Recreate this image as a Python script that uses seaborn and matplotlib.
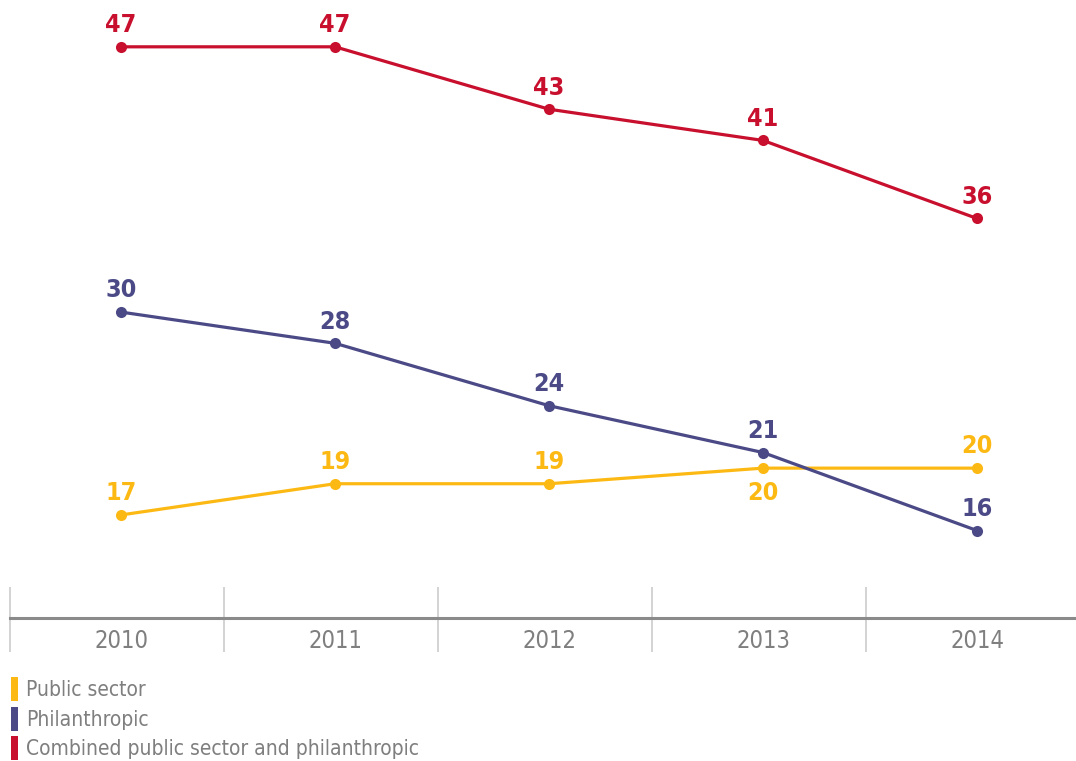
import matplotlib
matplotlib.use("Agg")
import matplotlib.pyplot as plt
from matplotlib.patches import Patch
import pandas as pd
import seaborn as sns

years = ["2010", "2011", "2012", "2013", "2014"]
public_sector = [17, 19, 19, 20, 20]
philanthropic = [30, 28, 24, 21, 16]
combined = [47, 47, 43, 41, 36]

series_names = ["Public sector", "Philanthropic", "Combined public sector and philanthropic"]
colors = ["#FDB913", "#4B4A87", "#C8102E"]

sns.set_style("white")
plt.rcParams["font.family"] = ["DejaVu Sans", "Liberation Sans"]
plt.rcParams["font.stretch"] = "condensed"

rows = []
for name, vals in zip(series_names, [public_sector, philanthropic, combined]):
    for i, v in enumerate(vals):
        rows.append({"idx": i, "value": v, "series": name})
df = pd.DataFrame(rows)

fig = plt.figure(figsize=(10.76, 7.61), dpi=100)
ax = fig.add_axes([0.0093, 0.188, 0.9898, 0.812])

sns.lineplot(data=df, x="idx", y="value", hue="series", hue_order=series_names,
             palette=colors, marker="o", markersize=8, markeredgewidth=0,
             linewidth=2.3, legend=False, ax=ax)

ax.set_xlim(-0.519, 4.458)
ax.set_ylim(10.4, 50.0)

# value labels (public sector 2013 goes under the point)
for name, vals, col in zip(series_names, [public_sector, philanthropic, combined], colors):
    for i, v in enumerate(vals):
        below = name == "Public sector" and i == 3
        ax.annotate(str(v), (i, v), xytext=(0, -9 if below else 7),
                    textcoords="offset points", ha="center",
                    va="top" if below else "bottom",
                    fontsize=18, fontweight="bold", color=col)

# axis styling
for side in ["top", "right", "left"]:
    ax.spines[side].set_visible(False)
ax.spines["bottom"].set_color("#8a8a8a")
ax.spines["bottom"].set_linewidth(2.2)
ax.set_yticks([])
ax.set_xticks(range(len(years)))
ax.set_xticklabels(years, fontsize=17, color="#7f7f7f")
ax.tick_params(axis="x", length=0, pad=8)
ax.set_xlabel("")
ax.set_ylabel("")

# band separators
seps = [i - 0.519 for i in range(len(years))]
ax.vlines(seps, -0.055, 0.05, transform=ax.get_xaxis_transform(),
          colors="#cccccc", linewidth=1.2, clip_on=False)

handles = [Patch(facecolor=c, edgecolor="none") for c in colors]
fig.legend(handles, series_names, loc="upper left", bbox_to_anchor=(0.010, 0.110),
           frameon=False, fontsize=15, labelcolor="#7f7f7f",
           handlelength=0.35, handleheight=1.4, handletextpad=0.4,
           labelspacing=0.25, borderpad=0, borderaxespad=0)

fig.savefig("out.png", dpi=100)
